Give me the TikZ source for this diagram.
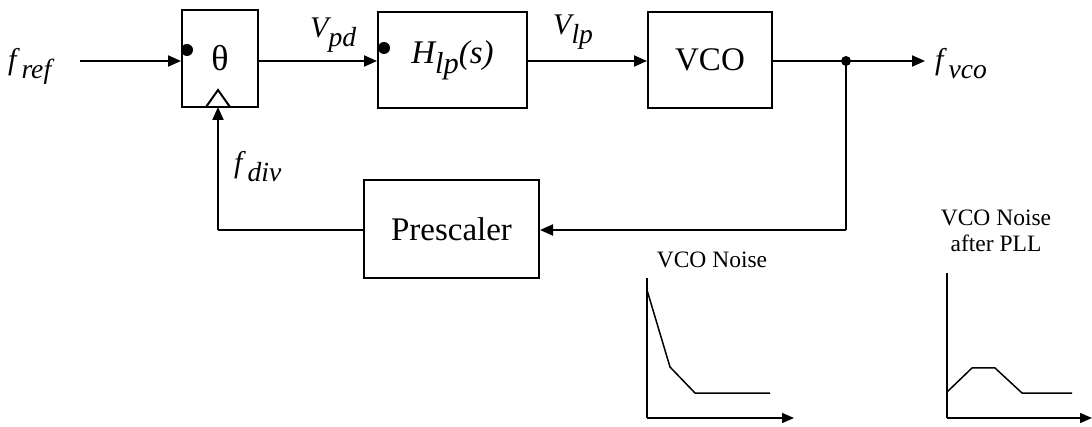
\documentclass[tikz,border=0pt]{standalone}
\usepackage{fontspec}
\setmainfont{Liberation Serif}
\usetikzlibrary{arrows.meta,calc}
\newcommand\lowsub[1]{\raisebox{-0.3em}{\scalebox{0.92}{#1}}}
\begin{document}
\begin{tikzpicture}[x=1pt,y=-1pt,
  blk/.style={draw,line width=2pt,inner sep=0pt,font=\fontsize{33}{36}\selectfont},
  ln/.style={line width=2pt},
  arr/.style={line width=2pt,-{Triangle[length=13pt,width=11pt]}},
  lbl/.style={inner sep=0pt,font=\fontsize{30}{32}\selectfont\itshape},
  ttl/.style={inner sep=0pt,font=\fontsize{23.5}{26}\selectfont,align=center},
  ax/.style={line width=1.5pt},
  axarr/.style={line width=1.5pt,-{Triangle[length=12pt,width=10pt]}},
  crv/.style={line width=1.5pt},
  dotin/.style={fill=black,circle,inner sep=0pt,minimum size=12pt}]
\useasboundingbox (0,0) rectangle (1092,427);
% blocks
\node[blk,minimum width=76pt,minimum height=97pt] (th) at (220,58.5) {\fontsize{36}{38}\selectfont θ};
\node[blk,minimum width=149pt,minimum height=96pt] (hlp) at (452.5,60) {\itshape H\lowsub{lp}(s)};
\node[blk,minimum width=124pt,minimum height=96pt] (vco) at (710,60) {VCO};
\node[blk,minimum width=175pt,minimum height=98pt] (pre) at (451.5,229) {Prescaler};
% input dots (disks cut by the left edge)
\begin{scope}
\clip (th.north west) rectangle (th.south east);
\node[dotin] (d1) at (187,50) {};
\end{scope}
\begin{scope}
\clip (hlp.north west) rectangle (hlp.south east);
\node[dotin] (d2) at (384,48) {};
\end{scope}
% triangle clock mark on theta
\coordinate (t1) at (206,107);
\coordinate (t2) at (218,90);
\coordinate (t3) at (230,107);
\draw[ln,line join=miter] (t1) -- (t2) -- (t3);
% coordinates
\coordinate (in) at (80,61);
\coordinate (j) at (846,61);
\coordinate (out) at (925,61);
\coordinate (fb) at (846,230);
\coordinate (fbl) at (218,230);
\coordinate (thb) at (218,107);
% connectors
\draw[arr] (in) -- (th.west |- in);
\draw[arr] (th.east |- in) -- (hlp.west |- in);
\draw[arr] (hlp.east |- in) -- (vco.west |- in);
\draw[ln] (vco.east |- j) -- (j);
\draw[arr] (j) -- (out);
\fill (j) circle (5pt);
\draw[ln] (j) -- (fb);
\draw[arr] (fb) -- (pre.east |- fb);
\draw[ln] (pre.west |- fbl) -- (fbl);
\draw[arr] (fbl) -- (thb);
% labels
\node[lbl,anchor=base west] (fref) at (8,70) {f\,\lowsub{ref}};
\node[lbl,anchor=base west] (vpd) at (310,38) {V\lowsub{pd}};
\node[lbl,anchor=base west] (vlp) at (553,35) {V\lowsub{lp}};
\node[lbl,anchor=base west] (fvco) at (935,70) {f\,\lowsub{vco}};
\node[lbl,anchor=base west] (fdiv) at (234,173) {f\,\lowsub{div}};
% noise plot 1
\node[ttl,anchor=base] (n1) at (712,268) {VCO Noise};
\coordinate (o1) at (647,418);
\coordinate (y1) at (647,278);
\coordinate (x1) at (794,418);
\draw[ax] (y1) -- (o1);
\draw[axarr] (o1) -- (x1);
\draw[crv,line join=round] (647,290) -- (670,367) -- (695,393) -- (770,393);
% noise plot 2
\node[ttl,anchor=base] (n2a) at (996,226) {VCO Noise};
\node[ttl,anchor=base] (n2b) at (996,252) {after PLL};
\coordinate (o2) at (947,418);
\coordinate (y2) at (947,273);
\coordinate (x2) at (1092,418);
\draw[ax] (y2) -- (o2);
\draw[axarr] (o2) -- (x2);
\draw[crv,line join=round] (947,392) -- (972,368) -- (995,368) -- (1022,393) -- (1072,393);
\end{tikzpicture}
\end{document}
